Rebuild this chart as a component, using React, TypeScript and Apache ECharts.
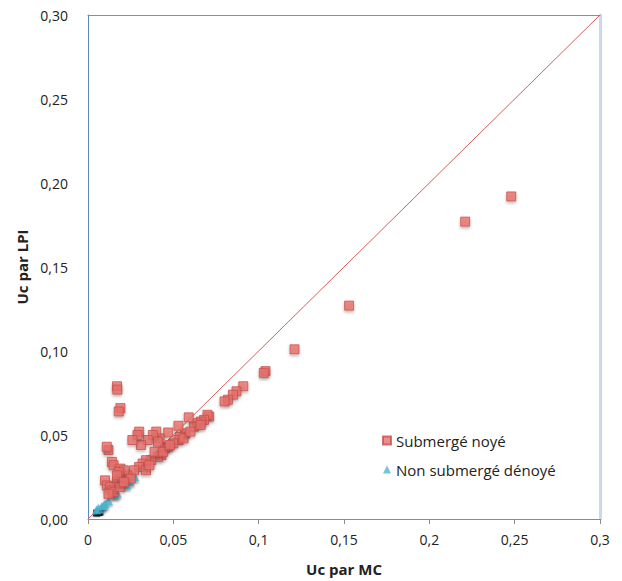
import React, { useEffect, useRef } from "react";
import * as echarts from "echarts";

const xTicks = [0, 0.05, 0.1, 0.15, 0.2, 0.25, 0.3];

const submergeNoye: number[][] = [
  [0.248, 0.192], [0.221, 0.177], [0.153, 0.127], [0.121, 0.101], [0.104, 0.088], [0.103, 0.087],
  [0.091, 0.079], [0.087, 0.076], [0.085, 0.074], [0.082, 0.071], [0.080, 0.070],
  [0.071, 0.061], [0.070, 0.062], [0.068, 0.059], [0.066, 0.058], [0.064, 0.057], [0.062, 0.055],
  [0.059, 0.0605], [0.057, 0.051], [0.054, 0.049], [0.053, 0.0555], [0.053, 0.047], [0.050, 0.045],
  [0.047, 0.0515], [0.047, 0.043], [0.045, 0.042], [0.042, 0.048], [0.040, 0.052], [0.038, 0.050],
  [0.041, 0.046], [0.043, 0.038], [0.041, 0.037], [0.035, 0.047], [0.031, 0.044], [0.030, 0.052],
  [0.029, 0.050], [0.026, 0.047], [0.037, 0.035], [0.034, 0.035], [0.032, 0.033], [0.030, 0.031],
  [0.027, 0.029], [0.023, 0.026], [0.020, 0.024], [0.017, 0.022],
  [0.017, 0.079], [0.0172, 0.077], [0.019, 0.066], [0.018, 0.064],
  [0.012, 0.041], [0.011, 0.043], [0.014, 0.034], [0.015, 0.032], [0.019, 0.030], [0.021, 0.029],
  [0.018, 0.028], [0.010, 0.023], [0.011, 0.020], [0.013, 0.019], [0.014, 0.017], [0.015, 0.016],
  [0.012, 0.015], [0.019, 0.019], [0.017, 0.026], [0.034, 0.029], [0.025, 0.024], [0.021, 0.022],
  [0.036, 0.032], [0.039, 0.040], [0.044, 0.040], [0.048, 0.044], [0.056, 0.048], [0.060, 0.052],
  [0.066, 0.056],
];

const nonSubmergeDenoye: number[][] = [
  [0.0275, 0.0252], [0.0246, 0.0222], [0.0227, 0.0202], [0.0172, 0.0153], [0.0158, 0.0143],
  [0.012, 0.011], [0.010, 0.009], [0.008, 0.0073], [0.006, 0.0064], [0.005, 0.0054],
  [0.007, 0.006], [0.009, 0.008],
];

const autres: number[][] = [
  [0.006, 0.0038], [0.007, 0.0042], [0.005, 0.0035], [0.0065, 0.004],
];

const diagonal: number[][] = [
  [0, 0],
  [0.3, 0.3],
];

const FONT = "'Open Sans', 'Noto Sans', sans-serif";

export default function App() {
  const ref = useRef<HTMLDivElement>(null);
  useEffect(() => {
    if (!ref.current) return;
    const chart = echarts.init(ref.current, undefined, { renderer: "svg" });
    chart.setOption({
      animation: false,
      backgroundColor: "#ffffff",
      grid: { left: 88, top: 15, right: 22, bottom: 62 },
      legend: {
        orient: "vertical",
        left: 377,
        top: 428,
        itemWidth: 8,
        itemHeight: 8,
        itemGap: 14,
        textStyle: { fontFamily: FONT, fontSize: 15, color: "#222" },
        data: [
          { name: "Submergé noyé", icon: "rect" },
          { name: "Non submergé dénoyé", icon: "triangle" },
        ],
      },
      xAxis: [
        {
          type: "value",
          min: 0,
          max: 0.3,
          interval: 0.05,
          name: "Uc par MC",
          nameLocation: "middle",
          nameGap: 42,
          nameTextStyle: { fontFamily: FONT, fontSize: 15, fontWeight: "bold", color: "#222" },
          axisLine: { show: true, onZero: false, lineStyle: { color: "#8c8c8c", width: 1 } },
          axisTick: { show: true, length: 5, lineStyle: { color: "#8c8c8c" } },
          axisLabel: {
            fontFamily: FONT,
            fontSize: 14,
            color: "#222",
            margin: 13,
            formatter: (v: number) => String(+v.toFixed(2)).replace(".", ","),
          },
          splitLine: { show: false },
        },
        {
          type: "value",
          position: "top",
          min: 0,
          max: 0.3,
          axisLine: { show: true, onZero: false, lineStyle: { color: "#6f93c5", width: 1 } },
          axisTick: { show: false },
          axisLabel: { show: false },
          splitLine: { show: false },
        },
      ],
      yAxis: [
        {
          type: "value",
          min: 0,
          max: 0.3,
          interval: 0.05,
          name: "Uc par LPI",
          nameLocation: "middle",
          nameGap: 50,
          nameTextStyle: { fontFamily: FONT, fontSize: 15, fontWeight: "bold", color: "#222" },
          axisLine: { show: true, onZero: false, lineStyle: { color: "#5b86c0", width: 1 } },
          axisTick: { show: false },
          axisLabel: {
            fontFamily: FONT,
            fontSize: 14,
            color: "#222",
            margin: 20,
            formatter: (v: number) => v.toFixed(2).replace(".", ","),
          },
          splitLine: { show: false },
        },
        {
          type: "value",
          position: "right",
          min: 0,
          max: 0.3,
          axisLine: { show: true, onZero: false, lineStyle: { color: "#c9daf0", width: 3 } },
          axisTick: { show: false },
          axisLabel: { show: false },
          splitLine: { show: false },
        },
      ],
      series: [
        {
          name: "diagonale",
          type: "line",
          data: diagonal,
          symbol: "none",
          lineStyle: { color: "#d65f5b", width: 1 },
          z: 1,
        },
        {
          name: "autres",
          type: "scatter",
          data: autres,
          symbol: "rect",
          symbolSize: 7,
          itemStyle: { color: "#111111" },
          z: 2,
        },
        {
          name: "Non submergé dénoyé",
          type: "scatter",
          data: nonSubmergeDenoye,
          symbol: "triangle",
          symbolSize: 9,
          itemStyle: {
            color: "#4bb8d6",
            shadowBlur: 2,
            shadowColor: "rgba(0,0,0,0.45)",
            shadowOffsetY: 2,
          },
          z: 3,
        },
        {
          name: "Submergé noyé",
          type: "scatter",
          data: submergeNoye,
          symbol: "rect",
          symbolSize: 9,
          itemStyle: {
            color: "#e8716c",
            borderColor: "#c9504b",
            borderWidth: 1,
            shadowBlur: 3,
            shadowColor: "rgba(0,0,0,0.3)",
            shadowOffsetY: 2,
          },
          z: 4,
        },
      ],
    });
    return () => chart.dispose();
  }, []);
  return (
    <div
      ref={ref}
      style={{ position: "fixed", left: 0, top: 0, width: 622, height: 581 }}
    />
  );
}
